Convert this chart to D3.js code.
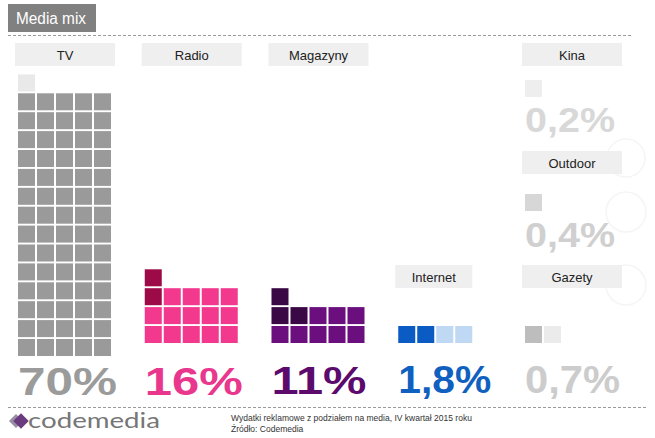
<!DOCTYPE html>
<html><head><meta charset="utf-8">
<script src="https://cdn.jsdelivr.net/npm/d3@7/dist/d3.min.js"></script>
<style>html,body{margin:0;padding:0;background:#fff;}svg{display:block;}</style>
</head><body>
<script>
// ---- data ----
const categories  = ["TV", "Radio", "Magazyny", "Internet", "Kina", "Outdoor", "Gazety"];
const shares      = [70, 16, 11, 1.8, 0.2, 0.4, 0.7];
const shareLabels = ["70%", "16%", "11%", "1,8%", "0,2%", "0,4%", "0,7%"];
// waffle cells in reading order (top-left first): first segment, then the rest
const firstCells  = [1, 2, 3, 2, 1, 1, 1];
const restCells   = [70, 14, 8, 2, 0, 0, 1];
const title = "Media mix";
const footnote = ["Wydatki reklamowe z podziałem na media, IV kwartał 2015 roku", "Źródło: Codemedia"];

// ---- layout & style ----
const W = 655, H = 438;
const layout = {
  TV:       {col:0, headTop:43,  headW:100, gridBottom:356, base:395, fs:39, lw:99, colors:["#e9e9e9","#9a9a9a"], text:"#9b9b9b"},
  Radio:    {col:1, headTop:43,  headW:100, gridBottom:343, base:395, fs:39, lw:98, colors:["#9c0a47","#f2398e"], text:"#e8378c"},
  Magazyny: {col:2, headTop:43,  headW:100, gridBottom:343, base:394, fs:39, lw:95, colors:["#3b0846","#6a0f7d"], text:"#5c0a6c"},
  Internet: {col:3, headTop:265, headW:77,  gridBottom:343, base:393, fs:39, lw:93, colors:["#0b5bc5","#bfd8f3"], text:"#1060c0"},
  Kina:     {col:4, headTop:43,  headW:100, gridBottom:97,  base:132, fs:35, lw:90, colors:["#eeeeee"], text:"#d8d8d8"},
  Outdoor:  {col:4, headTop:151, headW:100, gridBottom:211, base:247, fs:35, lw:90, colors:["#d7d7d7"], text:"#d0d0d0"},
  Gazety:   {col:4, headTop:265, headW:100, gridBottom:343, base:393, fs:39, lw:95, colors:["#bdbdbd","#ebebeb"], text:"#cccccc"}
};
const CELL = 17, PX = 19, PY = 18.9, PER_ROW = 5;

const svg = d3.select("body").append("svg").attr("width", W).attr("height", H)
  .style("font-family", "'Liberation Sans', Arial, sans-serif");

// faint watermark shapes
[[626, 158, 19], [626, 212, 20], [626, 285, 20]].forEach(([a, b, r]) => {
  svg.append("circle").attr("cx", a).attr("cy", b).attr("r", r)
    .attr("fill", "none").attr("stroke", "#f5f5f5").attr("stroke-width", 1.5);
});

// title
svg.append("rect").attr("x", 8).attr("y", 4).attr("width", 88).attr("height", 28).attr("fill", "#808080");
svg.append("text").attr("x", 16).attr("y", 24).attr("fill", "#fff").attr("font-size", 16)
  .attr("textLength", 70).attr("lengthAdjust", "spacingAndGlyphs").text(title);

// dashed rules
svg.append("line").attr("x1", 8).attr("x2", 632).attr("y1", 35.5).attr("y2", 35.5)
  .attr("stroke", "#9a9a9a").attr("stroke-dasharray", "3,2");
svg.append("line").attr("x1", 8).attr("x2", 648).attr("y1", 407.5).attr("y2", 407.5)
  .attr("stroke", "#9a9a9a").attr("stroke-dasharray", "3,2");

// scales
const x = d3.scaleLinear().domain([0, 4]).range([15, 522]);
const cx = d3.scaleLinear().domain([0, 1]).range([0, PX]);
const cy = d3.scaleLinear().domain([0, 1]).range([0, PY]);

const data = categories.map((c, i) => ({
  cat: c, share: shares[i], label: shareLabels[i], first: firstCells[i], rest: restCells[i], L: layout[c]
}));

const g = svg.selectAll("g.cat").data(data).enter().append("g").attr("class", "cat");

// headers
g.append("rect").attr("x", d => x(d.L.col)).attr("y", d => d.L.headTop)
  .attr("width", d => d.L.headW).attr("height", 23).attr("fill", "#efefef");
g.append("text").attr("x", d => x(d.L.col) + d.L.headW / 2).attr("y", d => d.L.headTop + 17)
  .attr("text-anchor", "middle").attr("font-size", 13).attr("fill", "#222").text(d => d.cat);

// waffle cells
g.each(function(d) {
  const n = d.first + d.rest;
  const rows = Math.ceil(n / PER_ROW);
  const topCount = n - PER_ROW * (rows - 1);
  const cells = d3.range(n).map(k => {
    let row, col;
    if (k < topCount) { row = 0; col = k; }
    else { row = 1 + Math.floor((k - topCount) / PER_ROW); col = (k - topCount) % PER_ROW; }
    return {row, col, seg: k < d.first ? 0 : 1};
  });
  const x0 = x(d.L.col) + 3;
  const yTop = d.L.gridBottom - CELL - cy(rows - 1);
  d3.select(this).selectAll("rect.cell").data(cells).enter().append("rect").attr("class", "cell")
    .attr("x", c => x0 + cx(c.col)).attr("y", c => yTop + cy(c.row))
    .attr("width", CELL).attr("height", CELL)
    .attr("fill", c => d.L.colors[Math.min(c.seg, d.L.colors.length - 1)]);
});

// big percentage labels
g.append("text").attr("x", d => x(d.L.col) + 3).attr("y", d => d.L.base)
  .attr("font-size", d => d.L.fs).attr("font-weight", "bold").attr("fill", d => d.L.text)
  .attr("textLength", d => d.L.lw).attr("lengthAdjust", "spacingAndGlyphs")
  .text(d => d.label);

// logo
svg.append("rect").attr("x", -5).attr("y", -5).attr("width", 10).attr("height", 10)
  .attr("fill", "#9a8ea6").attr("transform", "translate(16,421) rotate(45)");
svg.append("rect").attr("x", -5.5).attr("y", -5.5).attr("width", 11).attr("height", 11)
  .attr("fill", "#6a3b7e").attr("transform", "translate(21,421) rotate(45)");
svg.append("text").attr("x", 28).attr("y", 428).attr("font-family", "Lato, 'Open Sans', sans-serif")
  .attr("font-size", 21).attr("fill", "#767676").attr("textLength", 132)
  .attr("lengthAdjust", "spacingAndGlyphs").text("codemedia");

// footnote
svg.selectAll("text.foot").data(footnote).enter().append("text").attr("class", "foot")
  .attr("x", 231).attr("y", (d, i) => 421 + i * 10.5).attr("font-size", 8.5).attr("fill", "#333")
  .text(d => d);
</script>
</body></html>
